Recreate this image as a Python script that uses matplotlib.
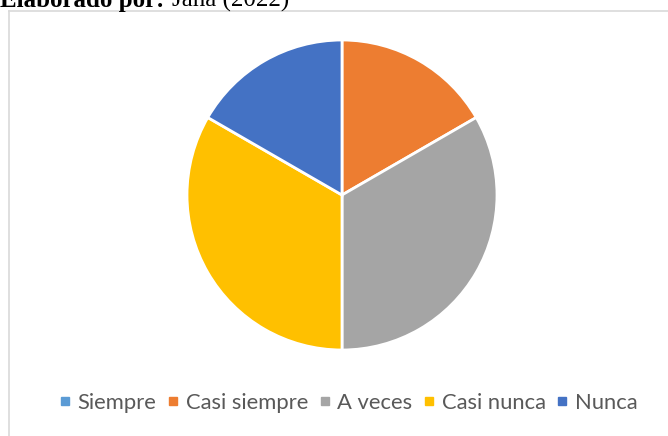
import matplotlib.pyplot as plt
from matplotlib.lines import Line2D

categorias = ['Siempre', 'Casi siempre', 'A veces', 'Casi nunca', 'Nunca']
valores = [0, 1, 2, 2, 1]
colores = ['#5B9BD5', '#ED7D31', '#A5A5A5', '#FFC000', '#4472C4']

fig = plt.figure(figsize=(6.68, 4.36), dpi=100)

# marco del grafico (solo se ven borde superior e izquierdo)
fig.add_artist(Line2D([9/668, 1], [1 - 11/436, 1 - 11/436], color='#D9D9D9', lw=1.2))
fig.add_artist(Line2D([9/668, 9/668], [0, 1 - 11/436], color='#D9D9D9', lw=1.2))

# encabezado cortado en el borde superior
t1 = fig.text(0.0, 1 - 7/436, 'Elaborado por:', fontsize=18, fontweight='bold',
              family='Liberation Serif', va='baseline', ha='left')
fig.canvas.draw()
x1 = t1.get_window_extent().x1
fig.text((x1 + 8) / 668, 1 - 7/436, 'Jaña (2022)', fontsize=18,
         family='Liberation Serif', va='baseline', ha='left')

ax = fig.add_axes([(342 - 155)/668, 1 - (195 + 155)/436, 310/668, 310/436])
ax.pie(valores, colors=colores, startangle=90, counterclock=False,
       wedgeprops=dict(edgecolor='white', linewidth=2))
ax.set_xlim(-1.0, 1.0)
ax.set_ylim(-1.0, 1.0)
ax.set_aspect('equal')

handles = [Line2D([], [], marker='s', linestyle='', markersize=5.5,
                  markerfacecolor=c, markeredgecolor=c) for c in colores]
fig.legend(handles, categorias, loc='center', bbox_to_anchor=(349/668, 1 - 403/436),
           ncol=5, frameon=False, handlelength=0.4, handletextpad=0.38,
           columnspacing=0.55, prop={'family': 'Lato', 'size': 15.8},
           labelcolor='#595959')

fig.savefig('out.png', dpi=100)
